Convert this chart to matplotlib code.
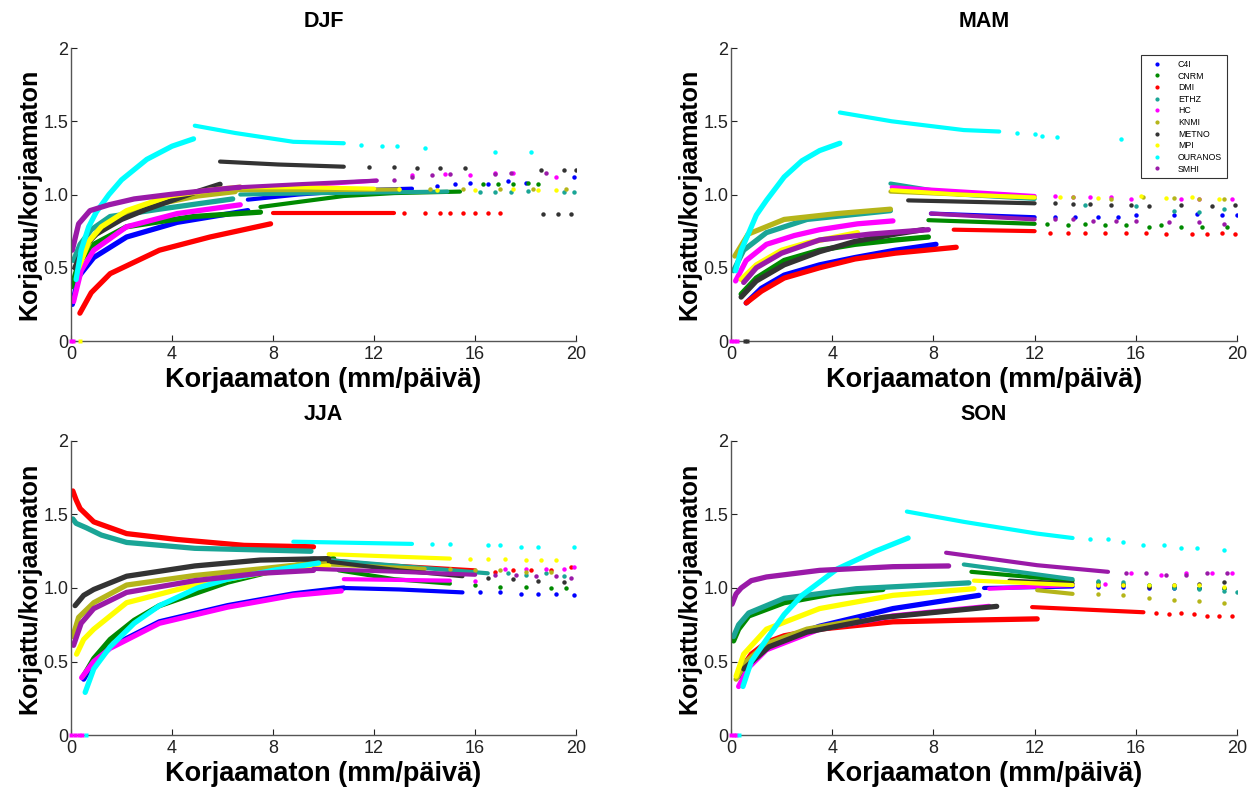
import matplotlib
matplotlib.use("Agg")
import matplotlib.pyplot as plt
from matplotlib.lines import Line2D

plt.rcParams['font.family'] = ['Liberation Sans', 'DejaVu Sans']

# ---------------- data ----------------
models = ["C4I", "CNRM", "DMI", "ETHZ", "HC", "KNMI", "METNO", "MPI", "OURANOS", "SMHI"]
model_colors = {
    "C4I": "#0000ff", "CNRM": "#008a00", "DMI": "#ff0000", "ETHZ": "#1aa596",
    "HC": "#ff00ff", "KNMI": "#b5b51a", "METNO": "#333333", "MPI": "#ffff00",
    "OURANOS": "#00ffff", "SMHI": "#9a1aa8",
}
seasons = ["DJF", "MAM", "JJA", "SON"]
x_ticks = [0, 4, 8, 12, 16, 20]
y_ticks = [0, 0.5, 1.0, 1.5, 2]
y_tick_labels = ["0", "0.5", "1.0", "1.5", "2"]

# dense low-intensity curves: model -> (x, y)
DJF_CURVE = {
    "C4I": ([0.05, 0.3, 0.9, 2.2, 4.2, 7.0], [0.25, 0.44, 0.57, 0.71, 0.81, 0.89]),
    "CNRM": ([0.02, 0.3, 0.9, 2.2, 4.85, 7.5], [0.37, 0.53, 0.66, 0.78, 0.85, 0.88]),
    "DMI": ([0.35, 0.8, 1.55, 3.5, 5.5, 7.9], [0.19, 0.33, 0.46, 0.62, 0.71, 0.8]),
    "ETHZ": ([0.1, 0.36, 0.8, 1.55, 3.5, 6.4], [0.55, 0.66, 0.76, 0.85, 0.9, 0.97]),
    "HC": ([0.1, 0.4, 0.9, 2.2, 4.2, 6.7], [0.27, 0.48, 0.62, 0.78, 0.87, 0.93]),
    "KNMI": ([0.3, 0.8, 1.5, 3.0, 5.0, 6.5], [0.52, 0.7, 0.8, 0.92, 0.99, 1.02]),
    "METNO": ([0.15, 0.5, 1, 2, 3, 4, 5, 5.9], [0.5, 0.64, 0.73, 0.83, 0.9, 0.96, 1.02, 1.07]),
    "MPI": ([0.3, 0.7, 1.2, 2.2, 3.9, 5.5, 6.7], [0.5, 0.68, 0.78, 0.89, 0.99, 1.03, 1.05]),
    "OURANOS": ([0.2, 0.4, 0.7, 1.0, 1.5, 2.0, 3.0, 4.0, 4.85], [0.42, 0.62, 0.78, 0.88, 1.0, 1.1, 1.24, 1.33, 1.38]),
    "SMHI": ([0.05, 0.3, 0.75, 1.5, 2.5, 3.9, 5.5, 6.7], [0.62, 0.8, 0.89, 0.93, 0.97, 1.0, 1.03, 1.05]),
}
DJF_TAIL = {
    "C4I": ([7, 9, 11.5, 13.5], [0.965, 1.0, 1.03, 1.04]),
    "CNRM": ([7.5, 10.8, 12.8, 15.4], [0.915, 0.99, 1.01, 1.02]),
    "DMI": ([8.0, 12.8], [0.876, 0.876]),
    "ETHZ": ([6.7, 10, 14.9], [1.0, 1.01, 1.02]),
    "HC": ([6.4, 9, 12.1], [1.03, 1.06, 1.095]),
    "KNMI": ([6.5, 10, 13], [1.03, 1.03, 1.035]),
    "METNO": ([5.9, 8.2, 10.8], [1.225, 1.205, 1.19]),
    "MPI": ([6.7, 9, 12], [1.05, 1.05, 1.04]),
    "OURANOS": ([4.9, 6.5, 8.8, 10.8], [1.47, 1.42, 1.36, 1.35]),
    "SMHI": ([6.7, 9, 12.1], [1.05, 1.07, 1.095]),
}
DJF_DOTS = {
    "C4I": ([14.5, 15.2, 15.8, 16.5, 17.3, 18.0, 19.9], [1.06, 1.07, 1.08, 1.07, 1.09, 1.08, 1.12]),
    "CNRM": ([16.3, 16.9, 17.5, 18.1, 18.5], [1.07, 1.075, 1.07, 1.08, 1.075]),
    "DMI": ([13.2, 14.0, 14.6, 15.0, 15.5, 16.0, 16.5, 17.0], [0.875, 0.875, 0.875, 0.875, 0.875, 0.875, 0.875, 0.875]),
    "ETHZ": ([16.2, 16.8, 17.4, 18.1, 19.5, 19.9], [1.02, 1.02, 1.02, 1.025, 1.02, 1.02]),
    "HC": ([13.5, 14.8, 15.8, 16.8, 17.5, 19.2], [1.13, 1.14, 1.13, 1.15, 1.15, 1.12]),
    "KNMI": ([14.2, 15.5, 17, 18.3, 19.6], [1.04, 1.04, 1.04, 1.04, 1.04]),
    "METNO": ([11.8, 12.8, 13.7, 14.6, 15.6, 18.6, 19.5, 20.0, 18.7, 19.3, 19.8], [1.19, 1.185, 1.18, 1.18, 1.18, 1.17, 1.17, 1.17, 0.87, 0.87, 0.87]),
    "MPI": ([13, 14.5, 16, 17.5, 18.5, 19.2], [1.04, 1.03, 1.03, 1.035, 1.03, 1.03]),
    "OURANOS": ([11.5, 12.3, 12.9, 14.0, 16.8, 18.2], [1.34, 1.33, 1.33, 1.32, 1.29, 1.29]),
    "SMHI": ([12.8, 13.5, 14.3, 15.0, 16.8, 17.4, 18.8], [1.1, 1.12, 1.13, 1.14, 1.14, 1.15, 1.15]),
}
DJF_ZERO = {"HC": [0.0, 0.08], "MPI": [0.35]}

MAM_CURVE = {
    "C4I": ([0.6, 1.2, 2.1, 3.5, 4.9, 6.5, 8.1], [0.26, 0.36, 0.45, 0.52, 0.57, 0.62, 0.66]),
    "CNRM": ([0.4, 1.0, 2.1, 3.5, 4.9, 6.5, 7.8], [0.32, 0.43, 0.55, 0.62, 0.66, 0.69, 0.71]),
    "DMI": ([0.6, 1.2, 2.1, 3.5, 4.9, 6.5, 8.9], [0.26, 0.34, 0.43, 0.5, 0.56, 0.6, 0.64]),
    "ETHZ": ([0.1, 0.5, 1.4, 3.0, 6.3], [0.48, 0.62, 0.74, 0.83, 0.89]),
    "HC": ([0.18, 0.6, 1.4, 2.5, 3.5, 5, 6.4], [0.41, 0.55, 0.66, 0.72, 0.76, 0.8, 0.82]),
    "KNMI": ([0.15, 0.68, 2.1, 4.2, 6.3], [0.58, 0.73, 0.83, 0.87, 0.9]),
    "METNO": ([0.4, 1.0, 2.1, 3.5, 4.9, 6.5, 7.6], [0.3, 0.41, 0.52, 0.61, 0.68, 0.73, 0.76]),
    "MPI": ([0.4, 1.0, 2.0, 3.0, 5.0], [0.42, 0.52, 0.62, 0.67, 0.74]),
    "OURANOS": ([0.18, 0.4, 0.68, 1.0, 1.4, 2.1, 2.8, 3.5, 4.3], [0.48, 0.62, 0.73, 0.86, 0.96, 1.12, 1.23, 1.3, 1.35]),
    "SMHI": ([0.5, 1.0, 2.0, 3.5, 5.5, 7.8], [0.4, 0.5, 0.6, 0.69, 0.73, 0.76]),
}
MAM_TAIL = {
    "C4I": ([7.9, 12], [0.87, 0.845]),
    "CNRM": ([7.8, 12], [0.825, 0.8]),
    "DMI": ([8.8, 12], [0.76, 0.75]),
    "ETHZ": ([6.3, 9, 12], [1.075, 1.0, 0.97]),
    "HC": ([6.35, 9.2, 12], [1.05, 1.02, 0.99]),
    "KNMI": ([6.3, 9, 12], [1.02, 1.0, 0.98]),
    "METNO": ([7.0, 12], [0.96, 0.94]),
    "MPI": ([6.35, 9, 12], [1.03, 1.0, 0.98]),
    "OURANOS": ([4.3, 6.35, 9.2, 10.6], [1.56, 1.5, 1.44, 1.43]),
    "SMHI": ([7.9, 12], [0.87, 0.83]),
}
MAM_DOTS = {
    "C4I": ([12.8, 13.6, 14.5, 15.3, 16.0, 17.5, 18.4, 19.4, 20], [0.85, 0.85, 0.85, 0.85, 0.86, 0.86, 0.87, 0.86, 0.86]),
    "CNRM": ([12.5, 13.3, 14.0, 14.8, 15.6, 16.5, 17.0, 17.8, 18.6, 19.6], [0.8, 0.79, 0.8, 0.79, 0.79, 0.78, 0.79, 0.78, 0.78, 0.78]),
    "DMI": ([12.6, 13.3, 14, 14.8, 15.6, 16.4, 17.2, 18.2, 18.8, 19.4, 19.9], [0.74, 0.74, 0.74, 0.735, 0.74, 0.735, 0.73, 0.73, 0.73, 0.735, 0.73]),
    "ETHZ": ([14, 16, 17.5, 18.5, 19.5], [0.93, 0.92, 0.89, 0.88, 0.9]),
    "HC": ([12.8, 13.5, 14.2, 15.0, 15.8, 17.8, 18.5, 19.8], [0.99, 0.98, 0.98, 0.98, 0.97, 0.97, 0.97, 0.97]),
    "KNMI": ([13.5, 15, 16.3, 17.5, 18.5, 19.5], [0.98, 0.97, 0.985, 0.975, 0.97, 0.97]),
    "METNO": ([12.8, 13.5, 14.2, 15, 15.8, 16.5, 17.8, 19, 19.9], [0.94, 0.935, 0.935, 0.93, 0.93, 0.92, 0.93, 0.92, 0.93]),
    "MPI": ([13, 14.5, 16.2, 17.2, 18.2, 19.3], [0.98, 0.975, 0.99, 0.975, 0.98, 0.97]),
    "OURANOS": ([11.3, 12.0, 12.3, 12.9, 15.4], [1.42, 1.41, 1.4, 1.39, 1.38]),
    "SMHI": ([12.8, 13.5, 14.3, 15.2, 16.0, 17.3, 18.5, 19.5], [0.83, 0.83, 0.82, 0.82, 0.82, 0.81, 0.81, 0.8]),
}
MAM_ZERO = {"HC": [0.0, 0.1, 0.25], "METNO": [0.55, 0.65]}

JJA_CURVE = {
    "C4I": ([0.5, 0.9, 1.55, 3.5, 6.2, 8.8, 10.8], [0.38, 0.5, 0.6, 0.77, 0.88, 0.96, 1.0]),
    "CNRM": ([0.49, 0.9, 1.55, 2.5, 3.5, 6.2, 8.8, 10.4], [0.4, 0.52, 0.65, 0.78, 0.88, 1.04, 1.15, 1.2]),
    "DMI": ([0.07, 0.2, 0.36, 0.9, 2.2, 4.2, 6.85, 9.6], [1.66, 1.6, 1.54, 1.45, 1.37, 1.33, 1.29, 1.28]),
    "ETHZ": ([0.07, 0.2, 0.6, 1.2, 2.2, 4.9, 9.5], [1.47, 1.44, 1.41, 1.36, 1.31, 1.27, 1.25]),
    "HC": ([0.42, 0.9, 1.55, 3.5, 6.2, 8.8, 10.7], [0.39, 0.5, 0.59, 0.76, 0.87, 0.95, 0.98]),
    "KNMI": ([0.07, 0.3, 0.9, 2.2, 4.9, 7.5, 10.2], [0.67, 0.8, 0.9, 1.02, 1.085, 1.13, 1.18]),
    "METNO": ([0.16, 0.5, 0.9, 2.2, 4.9, 7.5, 10.2], [0.88, 0.95, 0.99, 1.08, 1.15, 1.19, 1.2]),
    "MPI": ([0.22, 0.5, 0.9, 2.2, 4.9, 7.5, 10.2], [0.55, 0.65, 0.72, 0.9, 1.02, 1.1, 1.15]),
    "OURANOS": ([0.56, 0.9, 1.55, 2.5, 3.5, 5, 6.2, 8, 9.8], [0.29, 0.45, 0.6, 0.76, 0.88, 1.0, 1.06, 1.12, 1.17]),
    "SMHI": ([0.1, 0.4, 0.9, 2.2, 4.9, 7.5, 9.6], [0.61, 0.76, 0.86, 0.97, 1.05, 1.1, 1.12]),
}
JJA_TAIL = {
    "C4I": ([10.8, 13, 15.5], [1.0, 0.99, 0.97]),
    "CNRM": ([10.6, 12.8, 15], [1.12, 1.06, 1.03]),
    "DMI": ([9.6, 12, 16], [1.2, 1.16, 1.12]),
    "ETHZ": ([9.5, 13, 16.5], [1.2, 1.15, 1.1]),
    "HC": ([10.8, 15], [1.06, 1.05]),
    "KNMI": ([10.2, 14], [1.16, 1.13]),
    "METNO": ([10.2, 13, 15.5], [1.18, 1.12, 1.08]),
    "MPI": ([10.2, 15], [1.23, 1.2]),
    "OURANOS": ([8.8, 13.5], [1.315, 1.3]),
    "SMHI": ([9.6, 13, 16], [1.13, 1.11, 1.09]),
}
JJA_DOTS = {
    "C4I": ([16.2, 17, 17.8, 18.5, 19.2, 19.9], [0.97, 0.97, 0.96, 0.96, 0.96, 0.95]),
    "CNRM": ([16, 17, 18, 19, 19.6], [1.02, 1.01, 1.01, 1.0, 1.0]),
    "DMI": ([16.8, 17.5, 18.2, 19, 19.8], [1.11, 1.12, 1.12, 1.12, 1.14]),
    "ETHZ": ([17.3, 18, 18.8, 19.5], [1.1, 1.09, 1.1, 1.08]),
    "HC": ([16, 17.2, 18.0, 18.8, 19.5, 19.9], [1.05, 1.13, 1.13, 1.13, 1.13, 1.14]),
    "KNMI": ([15, 16, 17, 18, 19], [1.13, 1.12, 1.12, 1.11, 1.11]),
    "METNO": ([16.5, 17.5, 18.5, 19.5], [1.07, 1.06, 1.05, 1.04]),
    "MPI": ([15.8, 16.5, 17.2, 18.0, 18.6, 19.2], [1.2, 1.2, 1.2, 1.19, 1.19, 1.19]),
    "OURANOS": ([14.3, 15, 16.5, 17, 17.8, 18.5, 19.9], [1.3, 1.3, 1.29, 1.29, 1.28, 1.28, 1.28]),
    "SMHI": ([16.8, 17.6, 18.4, 19.2, 19.8], [1.09, 1.09, 1.08, 1.08, 1.07]),
}
JJA_ZERO = {"HC": [0.0, 0.15, 0.3, 0.45], "OURANOS": [0.6]}

SON_CURVE = {
    "C4I": ([0.33, 0.7, 1.4, 3.5, 6.4, 9.8], [0.4, 0.5, 0.61, 0.74, 0.86, 0.95]),
    "CNRM": ([0.1, 0.3, 0.7, 2.1, 4.0, 6.0], [0.64, 0.72, 0.81, 0.9, 0.96, 0.99]),
    "DMI": ([0.4, 0.8, 1.4, 2.1, 3.5, 6.4, 9, 12.1], [0.45, 0.55, 0.63, 0.675, 0.72, 0.77, 0.78, 0.79]),
    "ETHZ": ([0.1, 0.3, 0.7, 2.1, 4.95, 9.4], [0.67, 0.75, 0.83, 0.93, 0.995, 1.035]),
    "HC": ([0.3, 0.7, 1.4, 3.5, 6.4, 10.2], [0.33, 0.46, 0.58, 0.72, 0.81, 0.875]),
    "KNMI": ([0.2, 0.6, 1.4, 3.0, 5.0], [0.38, 0.5, 0.62, 0.72, 0.78]),
    "METNO": ([0.5, 1.5, 3.0, 6.0, 10.5], [0.45, 0.6, 0.7, 0.8, 0.875]),
    "MPI": ([0.2, 0.5, 1.4, 3.5, 6.4, 9.6], [0.4, 0.55, 0.72, 0.86, 0.95, 0.995]),
    "OURANOS": ([0.47, 0.8, 1.4, 2.1, 2.8, 4.2, 5.7, 7.0], [0.33, 0.5, 0.65, 0.82, 0.95, 1.13, 1.25, 1.34]),
    "SMHI": ([0.04, 0.2, 0.4, 0.8, 1.4, 3.5, 6.4, 8.6], [0.89, 0.96, 1.0, 1.05, 1.075, 1.12, 1.145, 1.15]),
}
SON_TAIL = {
    "C4I": ([10, 13.5], [1.0, 1.01]),
    "CNRM": ([9.5, 13.5], [1.11, 1.05]),
    "DMI": ([11.9, 16.3], [0.87, 0.835]),
    "ETHZ": ([9.2, 13.5], [1.16, 1.06]),
    "HC": ([10.2, 13.5], [0.995, 1.02]),
    "KNMI": ([12.1, 13.5], [0.985, 0.96]),
    "METNO": ([11, 13.5], [1.05, 1.03]),
    "MPI": ([9.6, 13.5], [1.05, 1.02]),
    "OURANOS": ([6.95, 9.2, 12.1, 13.5], [1.52, 1.45, 1.37, 1.34]),
    "SMHI": ([8.5, 12.1, 14.9], [1.24, 1.155, 1.11]),
}
SON_DOTS = {
    "C4I": ([14.5, 15.5, 16.5, 17.5, 18.5, 19.5], [1.01, 1.01, 1.0, 1.0, 1.0, 1.0]),
    "CNRM": ([14.5, 15.5, 16.5, 17.5, 18.5, 19.5], [1.04, 1.03, 1.02, 1.01, 1.0, 1.0]),
    "DMI": ([16.8, 17.3, 17.8, 18.3, 18.8, 19.3, 19.8], [0.83, 0.82, 0.83, 0.82, 0.81, 0.81, 0.81]),
    "ETHZ": ([14.5, 15.5, 16.5, 17.5, 18.5, 19.5, 20], [1.05, 1.04, 1.02, 1.0, 0.99, 0.98, 0.97]),
    "HC": ([14.8, 15.8, 17, 18, 19, 19.8], [1.03, 1.1, 1.09, 1.1, 1.1, 1.1]),
    "KNMI": ([14.5, 15.5, 16.5, 17.5, 18.5, 19.5], [0.96, 0.95, 0.93, 0.92, 0.91, 0.9]),
    "METNO": ([14.5, 15.5, 16.5, 17.5, 18.5, 19.5], [1.02, 1.02, 1.01, 1.02, 1.03, 1.04]),
    "MPI": ([14.5, 15.5, 16.5, 17.5, 18.5, 19.5], [1.02, 1.02, 1.02, 1.02, 1.02, 1.01]),
    "OURANOS": ([14.2, 14.9, 15.5, 16.3, 17.1, 17.8, 18.4, 19.5], [1.335, 1.33, 1.31, 1.29, 1.29, 1.275, 1.27, 1.26]),
    "SMHI": ([15.6, 16.4, 17.2, 18, 18.8, 19.6], [1.1, 1.1, 1.09, 1.09, 1.1, 1.1]),
}
SON_ZERO = {"HC": [0.0, 0.1, 0.2], "OURANOS": [0.3]}

season_data = {
    "DJF": (DJF_CURVE, DJF_TAIL, DJF_DOTS, DJF_ZERO),
    "MAM": (MAM_CURVE, MAM_TAIL, MAM_DOTS, MAM_ZERO),
    "JJA": (JJA_CURVE, JJA_TAIL, JJA_DOTS, JJA_ZERO),
    "SON": (SON_CURVE, SON_TAIL, SON_DOTS, SON_ZERO),
}

# ---------------- figure ----------------
fig = plt.figure(figsize=(12.55, 7.94), dpi=100)
axes_rects = {
    "DJF": [0.0566, 0.5705, 0.4025, 0.369],
    "MAM": [0.5825, 0.5705, 0.4032, 0.369],
    "JJA": [0.0566, 0.0743, 0.4025, 0.3703],
    "SON": [0.5825, 0.0743, 0.4032, 0.3703],
}

for season in seasons:
    ax = fig.add_axes(axes_rects[season])
    curve, tail, dots, zero = season_data[season]
    for m in models:
        c = model_colors[m]
        cx, cy = curve[m]
        ax.plot(cx, cy, '-', color=c, lw=3.8, solid_capstyle='round', zorder=2)
        tx, ty = tail[m]
        ax.plot(tx, ty, '-', color=c, lw=3.0, solid_capstyle='round', zorder=2)
        dx, dy = dots[m]
        ax.plot(dx, dy, 'o', color=c, ms=3.2, mec='none', zorder=2)
    for m, zx in zero.items():
        ax.plot(zx, [0] * len(zx), 's', color=model_colors[m], ms=3.5, mec='none',
                zorder=3, clip_on=False)

    ax.set_xlim(0, 20)
    ax.set_ylim(0, 2)
    ax.set_xticks(x_ticks)
    ax.set_xticklabels([str(t) for t in x_ticks])
    ax.set_yticks(y_ticks)
    ax.set_yticklabels(y_tick_labels)
    ax.tick_params(direction='in', length=4, width=0.8, labelsize=13,
                   colors='#222222', pad=2)
    ax.tick_params(axis='x', pad=3.5)
    for s in ('top', 'right'):
        ax.spines[s].set_visible(False)
    for s in ('left', 'bottom'):
        ax.spines[s].set_color('#555555')
        ax.spines[s].set_linewidth(1.0)
    ax.set_xlabel("Korjaamaton (mm/päivä)", fontsize=19.5, fontweight='bold', labelpad=3)
    ax.set_ylabel("Korjattu/korjaamaton", fontsize=18, fontweight='bold', labelpad=1)
    ax.set_title(season, fontsize=15.5, fontweight='bold', pad=15)

    if season == "MAM":
        handles = [Line2D([], [], ls='none', marker='.', ms=4, color=model_colors[m])
                   for m in models]
        leg = ax.legend(handles, models, loc='upper right', bbox_to_anchor=(0.98, 0.976),
                        fontsize=6.3, frameon=True, fancybox=False, handlelength=2.6,
                        labelspacing=0.3, borderpad=0.55, handletextpad=1.1,
                        borderaxespad=0)
        leg.get_frame().set_edgecolor('black')
        leg.get_frame().set_linewidth(0.8)

fig.savefig("out.png", dpi=100)
